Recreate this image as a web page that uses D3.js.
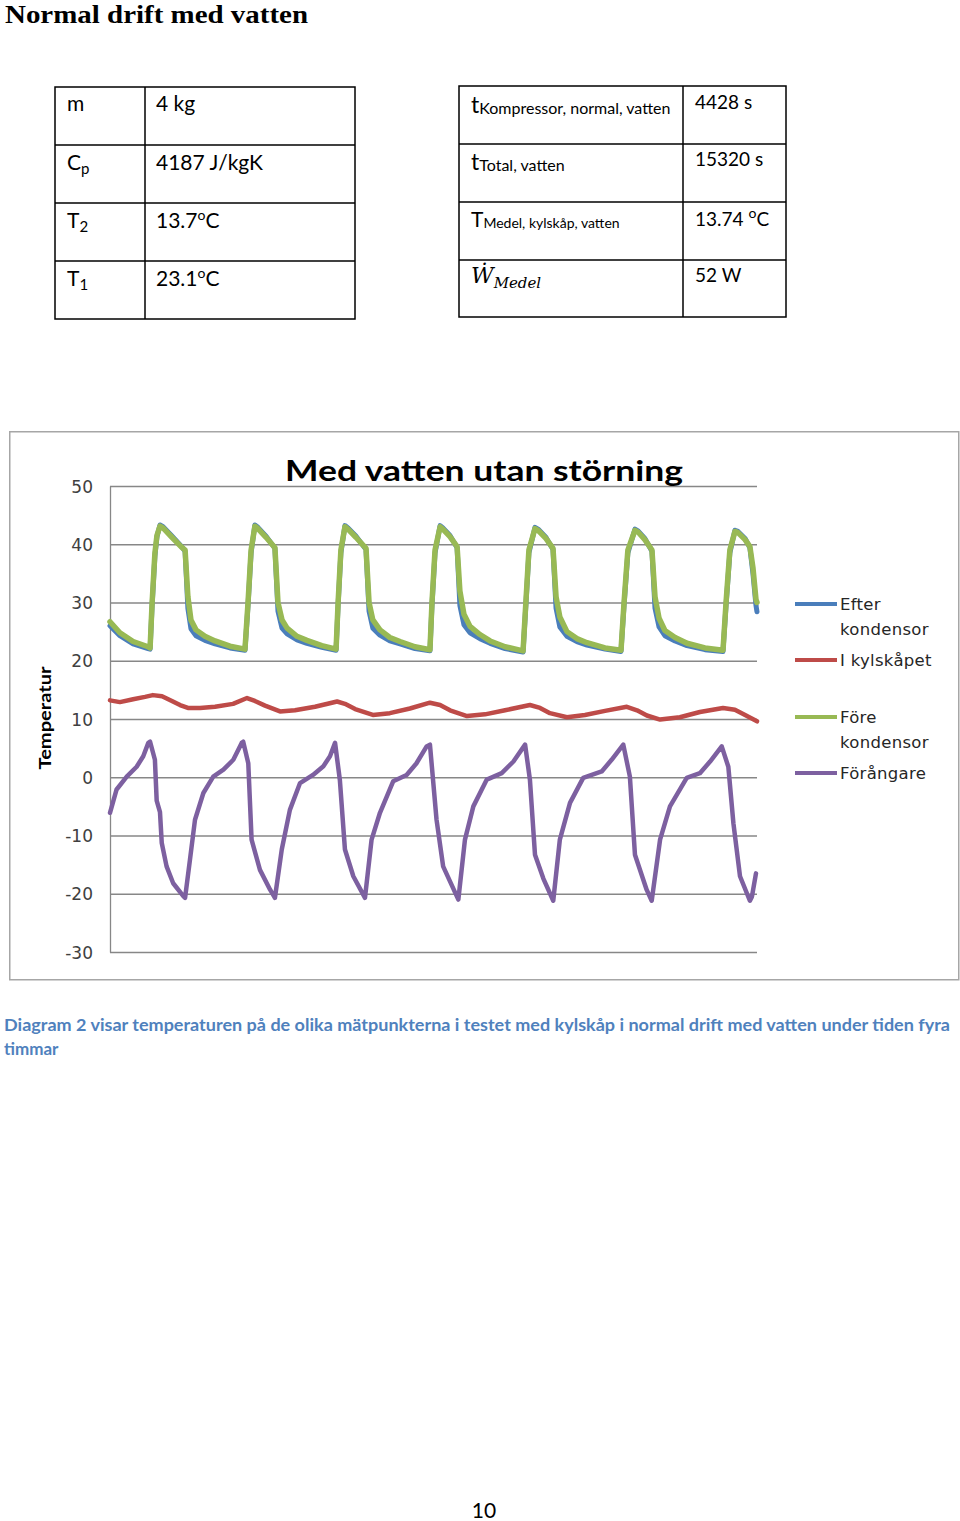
<!DOCTYPE html>
<html>
<head>
<meta charset="utf-8">
<script src="https://cdn.jsdelivr.net/npm/d3@7"></script>
<style>
  html, body { margin: 0; padding: 0; background: #fff; }
  svg { display: block; }
</style>
</head>
<body>
<svg id="page" width="960" height="1521"></svg>
<script>
// ---------------- DATA ----------------
const pageTitle = "Normal drift med vatten";
const chartTitle = "Med vatten utan störning";
const yAxisTitle = "Temperatur";
const captionLines = [
  "Diagram 2 visar temperaturen på de olika mätpunkterna i testet med kylskåp i normal drift med vatten under tiden fyra",
  "timmar"
];
const pageNumber = "10";

// table cells: [text, style]
const leftTableLabels = [
  [["m"]],
  [["C"], ["p", "sub"]],
  [["T"], ["2", "sub"]],
  [["T"], ["1", "sub"]]
];
const leftTableValues = [
  [["4 kg"]],
  [["4187 J/kgK"]],
  [["13.7"], ["o", "sup"], ["C"]],
  [["23.1"], ["o", "sup"], ["C"]]
];
const rightTableLabels = [
  [["t", "big"], ["Kompressor, normal, vatten", "sub2"]],
  [["t", "big"], ["Total, vatten", "sub2"]],
  [["T", "bigT"], ["Medel, kylskåp, vatten", "sub3"]],
  [["W\u0307", "math"], ["Medel", "mathsub"]]
];
const rightTableValues = [
  [["4428 s"]],
  [["15320 s"]],
  [["13.74 "], ["o", "sup"], ["C"]],
  [["52 W"]]
];

// Chart series (time in minutes, temperature in °C)
const seriesNames = ["Efter kondensor", "I kylskåpet", "Före kondensor", "Förångare"];
const yTicks = [50, 40, 30, 20, 10, 0, -10, -20, -30];

const kondTime = [0.0, 3.9, 9.1, 15.0, 15.8, 16.6, 17.7, 18.5, 19.7, 20.9, 24.4, 28.0, 29.6, 30.7, 31.9, 33.9, 37.4, 41.4, 47.3, 53.2,
  54.4, 55.6, 57.1, 58.3, 61.5, 65.0, 66.2, 67.8, 69.8, 73.7, 77.6, 83.5, 89.1,
  89.9, 91.0, 92.6, 93.8, 96.9, 100.9, 102.1, 103.6, 106.4, 110.3, 114.3, 120.2, 126.1,
  126.9, 128.1, 130.1, 131.2, 134.0, 136.8, 137.9, 139.5, 141.9, 145.8, 149.8, 155.7, 162.8,
  163.9, 165.1, 167.5, 168.7, 171.8, 174.6, 175.8, 177.3, 180.1, 184.0, 188.0, 195.1, 201.4,
  202.6, 204.1, 206.9, 208.1, 210.8, 213.6, 214.8, 216.4, 218.7, 222.7, 227.4, 234.5, 241.6,
  242.8, 244.3, 246.3, 247.5, 250.3, 252.2, 253.4, 254.6, 255.0];

const foreKondensor = [26.7, 24.8, 23.3, 22.4, 22.2, 30.0, 38.5, 41.5, 43.1, 42.8, 41.2, 39.6, 39.0, 31.0, 27.0, 25.3, 24.2, 23.4, 22.5, 22.0,
  30.0, 39.0, 43.1, 42.7, 41.2, 39.4, 30.0, 27.0, 25.6, 24.2, 23.5, 22.6, 22.0,
  30.0, 39.0, 43.0, 42.6, 41.2, 39.3, 30.0, 27.0, 25.3, 24.0, 23.3, 22.4, 21.9,
  30.0, 39.0, 43.0, 42.6, 41.3, 39.6, 32.0, 28.0, 25.9, 24.5, 23.4, 22.4, 21.7,
  30.0, 39.0, 42.7, 42.4, 41.0, 39.3, 31.0, 27.5, 25.0, 23.8, 23.1, 22.2, 21.8,
  30.0, 39.0, 42.4, 42.1, 40.8, 39.0, 31.0, 27.3, 25.2, 24.0, 23.0, 22.2, 21.8,
  30.0, 39.0, 42.2, 42.0, 40.8, 39.6, 36.0, 30.5, 30.0];

const efterKondensor = [26.0, 24.3, 22.9, 22.1, 22.0, 29.5, 38.0, 41.3, 43.3, 43.0, 41.4, 39.7, 38.8, 29.0, 25.5, 24.3, 23.5, 22.9, 22.2, 21.8,
  29.5, 38.5, 43.3, 42.9, 41.4, 39.3, 28.5, 25.6, 24.6, 23.6, 23.0, 22.3, 21.8,
  29.5, 38.5, 43.2, 42.8, 41.4, 39.1, 28.5, 25.6, 24.4, 23.4, 22.9, 22.1, 21.7,
  29.5, 38.5, 43.2, 42.8, 41.5, 39.4, 29.5, 26.2, 24.8, 23.8, 23.0, 22.1, 21.5,
  29.5, 38.5, 42.9, 42.6, 41.2, 39.1, 29.0, 25.8, 24.2, 23.3, 22.7, 22.0, 21.6,
  29.5, 38.5, 42.6, 42.3, 41.0, 38.8, 29.0, 25.8, 24.3, 23.4, 22.6, 21.9, 21.6,
  29.5, 38.5, 42.4, 42.2, 41.0, 39.4, 35.0, 29.5, 28.4];

const kylTime = [0.0, 3.9, 9.1, 13.8, 16.9, 20.5, 24.4, 27.6, 30.7, 35.5, 41.4, 48.5, 54.0, 57.1, 61.1, 67.0, 72.9, 80.8,
  89.5, 92.6, 96.6, 103.6, 110.3, 118.2, 126.1, 130.1, 134.0, 140.7, 147.8, 155.7, 165.5, 169.5, 173.4,
  180.1, 187.2, 195.1, 203.7, 207.7, 211.6, 216.8, 224.6, 232.5, 241.6, 246.3, 250.3, 255.0];
const iKylskapet = [13.2, 12.9, 13.4, 13.8, 14.1, 13.9, 13.1, 12.4, 11.9, 11.9, 12.1, 12.6, 13.6, 13.1, 12.3, 11.3, 11.5, 12.1,
  13.0, 12.6, 11.7, 10.7, 11.0, 11.8, 12.8, 12.4, 11.5, 10.5, 10.8, 11.5, 12.4, 11.9, 11.0,
  10.3, 10.7, 11.4, 12.1, 11.5, 10.6, 9.9, 10.3, 11.2, 11.9, 11.6, 10.7, 9.6];

const forangTime = [0.0, 2.6, 6.6, 10.5, 13.1, 15.1, 15.8, 17.7, 18.4, 19.7, 20.4, 22.3, 24.9, 28.9, 29.6,
  31.5, 33.5, 36.8, 40.7, 44.7, 48.6, 51.9, 52.5, 54.5, 55.8, 59.1, 63.1, 65.0,
  67.7, 70.9, 74.9, 80.0, 84.1, 86.7, 88.7, 90.6, 92.6, 95.9, 100.5,
  103.1, 106.4, 111.6, 116.9, 120.8, 124.8, 126.1, 128.7, 131.3, 137.3,
  139.9, 143.2, 148.5, 154.4, 159.0, 163.6, 165.5, 167.5, 170.8, 174.7,
  177.3, 181.3, 186.5, 193.8, 197.7, 202.3, 204.9, 206.9, 211.5, 213.5,
  216.8, 220.7, 227.3, 232.5, 236.5, 241.1, 243.7, 245.7, 248.3, 252.2, 253.0, 254.6];
const forangare = [-6.1, -2.1, 0.1, 1.8, 3.6, 5.9, 6.1, 3.0, -4.0, -6.0, -11.3, -15.3, -18.2, -20.4, -20.7,
  -14.2, -7.3, -2.7, 0.1, 1.3, 3.0, 5.9, 6.1, 2.4, -10.7, -15.9, -19.3, -20.7,
  -12.4, -5.6, -1.0, 0.4, 1.9, 3.6, 5.9, -0.5, -12.4, -17.0, -20.7,
  -10.7, -6.1, -0.7, 0.4, 2.4, 5.3, 5.6, -7.3, -15.3, -21.0,
  -10.7, -5.0, -0.4, 0.7, 2.7, 5.6, -0.4, -13.3, -17.4, -21.2,
  -10.7, -4.4, -0.1, 1.0, 3.0, 5.6, 0.1, -13.3, -19.3, -21.2,
  -10.7, -5.0, -0.1, 0.7, 2.7, 5.3, 1.8, -7.9, -17.0, -21.2, -20.5, -16.5];

const seriesColors = ["#4A7EBB", "#BE4B48", "#98B954", "#7D60A0"];

// ---------------- DRAW ----------------
const svg = d3.select("#page");
svg.append("rect").attr("width", 960).attr("height", 1521).attr("fill", "#fff");

// Page heading
svg.append("text")
  .attr("x", 5).attr("y", 23)
  .attr("font-family", "'Liberation Serif', 'DejaVu Serif', serif")
  .attr("font-weight", "bold").attr("font-size", 26)
  .attr("textLength", 303).attr("lengthAdjust", "spacingAndGlyphs")
  .attr("fill", "#000")
  .text(pageTitle);

// Rich text helper
const richStyles = {
  main:    { size: 21, off: 0 },
  sub:     { size: 15, off: 4 },
  sup:     { size: 14, off: -8 },
  big:     { size: 23, off: 0 },
  bigT:    { size: 21, off: 0 },
  sub2:    { size: 16, off: 1 },
  sub3:    { size: 14, off: 1 },
  math:    { size: 22, off: 0, italic: true, family: "'DejaVu Serif', 'Liberation Serif', serif" },
  mathsub: { size: 15, off: 5, italic: true, family: "'DejaVu Serif', 'Liberation Serif', serif" }
};
function rich(g, x, y, parts, baseSize) {
  const t = g.append("text").attr("x", x).attr("y", y)
    .attr("font-family", "Lato, 'Open Sans', sans-serif").attr("fill", "#000");
  let cur = 0;
  parts.forEach(([s, k]) => {
    const st = Object.assign({}, richStyles[k || "main"]);
    if (!k && baseSize) st.size = baseSize;
    const ts = t.append("tspan").attr("dy", st.off - cur).attr("font-size", st.size).text(s);
    if (st.italic) ts.attr("font-style", "italic");
    if (st.family) ts.attr("font-family", st.family);
    cur = st.off;
  });
  return t;
}

function drawTable(x0, x1, x2, rowEdges, labels, values, labelBase, valueBase, labelSize, valueSize, labelDx, valueDx) {
  const g = svg.append("g");
  g.append("rect").attr("x", x0).attr("y", rowEdges[0])
    .attr("width", x2 - x0).attr("height", rowEdges[rowEdges.length - 1] - rowEdges[0])
    .attr("fill", "none").attr("stroke", "#000").attr("stroke-width", 1.5);
  g.append("line").attr("x1", x1).attr("x2", x1).attr("y1", rowEdges[0]).attr("y2", rowEdges[rowEdges.length - 1])
    .attr("stroke", "#000").attr("stroke-width", 1.5);
  rowEdges.slice(1, -1).forEach(yy => {
    g.append("line").attr("x1", x0).attr("x2", x2).attr("y1", yy).attr("y2", yy)
      .attr("stroke", "#000").attr("stroke-width", 1.5);
  });
  labels.forEach((parts, i) => rich(g, x0 + labelDx, labelBase[i], parts, labelSize));
  values.forEach((parts, i) => rich(g, x1 + valueDx, valueBase[i], parts, valueSize));
}

drawTable(55, 145, 355, [87, 145, 203, 261, 319],
  leftTableLabels, leftTableValues,
  [111, 170, 228, 286], [111, 170, 228, 286], 21, 21, 12, 11);
drawTable(459, 683, 786, [86, 144, 202, 260, 317],
  rightTableLabels, rightTableValues,
  [113, 170, 227, 283], [109, 166, 226, 282], 21, 19, 12, 12);

// ---------------- CHART ----------------
svg.append("rect").attr("x", 9.75).attr("y", 431.75).attr("width", 949).attr("height", 548)
  .attr("fill", "#fff").attr("stroke", "#A6A6A6").attr("stroke-width", 1.5);

const plotL = 110, plotR = 757, plotT = 486, plotB = 952;
const x = d3.scaleLinear().domain([0, 255]).range([plotL, plotR]);
const y = d3.scaleLinear().domain([-30, 50]).range([plotB, plotT]);

// gridlines
svg.append("g").attr("class", "grid")
  .attr("transform", `translate(${plotL},0)`)
  .call(d3.axisLeft(y).tickValues(yTicks).tickSize(-(plotR - plotL)).tickFormat(""))
  .call(g => g.select(".domain").remove())
  .call(g => g.selectAll("line").attr("stroke", "#878787").attr("stroke-width", 1.3));

// y axis labels + axis line
svg.append("g").attr("class", "yaxis")
  .attr("transform", `translate(${plotL},0)`)
  .call(d3.axisLeft(y).tickValues(yTicks).tickSize(0).tickPadding(17).tickFormat(d => String(d)))
  .call(g => g.select(".domain").attr("stroke", "#878787").attr("stroke-width", 1.3))
  .call(g => g.selectAll("text").attr("font-family", "'DejaVu Sans', Verdana, sans-serif")
    .attr("font-size", 17).attr("fill", "#404040").attr("dy", "0.36em"));

// y axis title
svg.append("text")
  .attr("transform", "translate(51,718) rotate(-90)")
  .attr("text-anchor", "middle")
  .attr("font-family", "Lato, 'Open Sans', sans-serif").attr("font-weight", "bold")
  .attr("font-size", 17).attr("fill", "#000")
  .attr("textLength", 103).attr("lengthAdjust", "spacingAndGlyphs")
  .text(yAxisTitle);

// chart title
svg.append("text")
  .attr("x", 484).attr("y", 481).attr("text-anchor", "middle")
  .attr("font-family", "Lato, 'Open Sans', sans-serif").attr("font-weight", "bold")
  .attr("font-size", 29).attr("fill", "#000")
  .attr("textLength", 398).attr("lengthAdjust", "spacingAndGlyphs")
  .text(chartTitle);

// series
const line = d3.line().x(d => x(d[0])).y(d => y(d[1])).curve(d3.curveLinear);
const seriesData = [
  d3.zip(kondTime, efterKondensor),
  d3.zip(kylTime, iKylskapet),
  d3.zip(kondTime, foreKondensor),
  d3.zip(forangTime, forangare)
];
const widths = [5, 4.5, 5.5, 4.5];
const plot = svg.append("g");
seriesData.forEach((data, i) => {
  plot.append("path").datum(data)
    .attr("d", line)
    .attr("fill", "none")
    .attr("stroke", seriesColors[i])
    .attr("stroke-width", widths[i])
    .attr("stroke-linejoin", "round")
    .attr("stroke-linecap", "round");
});

// legend
const legendItems = [
  { lines: ["Efter", "kondensor"], y: 604 },
  { lines: ["I kylskåpet"], y: 660 },
  { lines: ["Före", "kondensor"], y: 717 },
  { lines: ["Förångare"], y: 773 }
];
const lg = svg.append("g");
legendItems.forEach((it, i) => {
  lg.append("line").attr("x1", 795).attr("x2", 837).attr("y1", it.y).attr("y2", it.y)
    .attr("stroke", seriesColors[i]).attr("stroke-width", 4);
  it.lines.forEach((s, j) => {
    lg.append("text").attr("x", 840).attr("y", it.y + j * 25.5)
      .attr("dy", "0.36em")
      .attr("font-family", "'DejaVu Sans', Verdana, sans-serif")
      .attr("font-size", 16.5).attr("fill", "#262626")
      .attr("letter-spacing", 0.3)
      .text(s);
  });
});

// caption
captionLines.forEach((s, i) => {
  const t = svg.append("text")
    .attr("x", 4).attr("y", 1031 + i * 23.5)
    .attr("font-family", "Lato, 'Open Sans', sans-serif").attr("font-weight", "bold")
    .attr("font-size", 17).attr("fill", "#4F81BD")
    .text(s);
  if (i === 0) t.attr("textLength", 946).attr("lengthAdjust", "spacingAndGlyphs");
});

// page number
svg.append("text").attr("x", 484).attr("y", 1518).attr("text-anchor", "middle")
  .attr("font-family", "Lato, 'Open Sans', sans-serif").attr("font-size", 21).attr("fill", "#000")
  .text(pageNumber);
</script>
</body>
</html>
